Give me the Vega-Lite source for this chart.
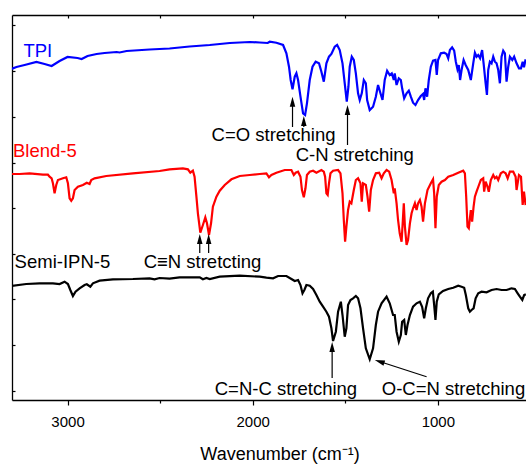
{
  "$schema": "https://vega.github.io/schema/vega-lite/v6.json",
  "width": 514,
  "height": 385,
  "autosize": {"type": "none"},
  "padding": {"left": 12, "top": 15, "right": 0, "bottom": 65},
  "config": {
    "view": {"stroke": null},
    "axis": {"domainColor": "#000000", "domainWidth": 1.3, "tickColor": "#000000", "tickWidth": 1.2, "grid": false, "labelColor": "#000000", "labelFont": "Liberation Sans", "titleFont": "Liberation Sans", "titleColor": "#000000", "titleFontWeight": "normal"}
  },
  "datasets": {
    "spectra": [
      {"s":"TPI","wn":3303,"y":331},{"s":"TPI","wn":3276,"y":333},{"s":"TPI","wn":3232,"y":335},{"s":"TPI","wn":3168,"y":338},{"s":"TPI","wn":3124,"y":336},{"s":"TPI","wn":3086,"y":334},{"s":"TPI","wn":3043,"y":339},{"s":"TPI","wn":3000,"y":343},{"s":"TPI","wn":2946,"y":342},{"s":"TPI","wn":2924,"y":341},{"s":"TPI","wn":2892,"y":344},{"s":"TPI","wn":2843,"y":346},{"s":"TPI","wn":2800,"y":347},{"s":"TPI","wn":2735,"y":348},{"s":"TPI","wn":2719,"y":347.5},{"s":"TPI","wn":2681,"y":349},{"s":"TPI","wn":2557,"y":350.5},{"s":"TPI","wn":2449,"y":351.5},{"s":"TPI","wn":2341,"y":353.5},{"s":"TPI","wn":2232,"y":355},{"s":"TPI","wn":2124,"y":357},{"s":"TPI","wn":2016,"y":358},{"s":"TPI","wn":1962,"y":357.5},{"s":"TPI","wn":1919,"y":357},{"s":"TPI","wn":1908,"y":358.3},{"s":"TPI","wn":1872,"y":357.3},{"s":"TPI","wn":1836,"y":355},{"s":"TPI","wn":1818,"y":346.7},{"s":"TPI","wn":1804,"y":333.3},{"s":"TPI","wn":1795,"y":320},{"s":"TPI","wn":1785,"y":310.7},{"s":"TPI","wn":1773,"y":323.3},{"s":"TPI","wn":1764,"y":326.7},{"s":"TPI","wn":1755,"y":320},{"s":"TPI","wn":1742,"y":303.3},{"s":"TPI","wn":1728,"y":286.7},{"s":"TPI","wn":1717,"y":285},{"s":"TPI","wn":1707,"y":296.7},{"s":"TPI","wn":1692,"y":320},{"s":"TPI","wn":1677,"y":333.3},{"s":"TPI","wn":1660,"y":338.3},{"s":"TPI","wn":1642,"y":336.7},{"s":"TPI","wn":1629,"y":328.3},{"s":"TPI","wn":1616,"y":318.3},{"s":"TPI","wn":1602,"y":336.7},{"s":"TPI","wn":1588,"y":343.3},{"s":"TPI","wn":1575,"y":346},{"s":"TPI","wn":1557,"y":353.3},{"s":"TPI","wn":1544,"y":355},{"s":"TPI","wn":1530,"y":350},{"s":"TPI","wn":1515,"y":336.7},{"s":"TPI","wn":1503,"y":316.7},{"s":"TPI","wn":1492,"y":298.3},{"s":"TPI","wn":1483,"y":313.3},{"s":"TPI","wn":1476,"y":333.3},{"s":"TPI","wn":1465,"y":343.3},{"s":"TPI","wn":1454,"y":340},{"s":"TPI","wn":1443,"y":326.7},{"s":"TPI","wn":1431,"y":306.7},{"s":"TPI","wn":1422,"y":300},{"s":"TPI","wn":1411,"y":306.7},{"s":"TPI","wn":1400,"y":320},{"s":"TPI","wn":1389,"y":316.7},{"s":"TPI","wn":1382,"y":300},{"s":"TPI","wn":1368,"y":290},{"s":"TPI","wn":1350,"y":293.3},{"s":"TPI","wn":1335,"y":303.3},{"s":"TPI","wn":1323,"y":315},{"s":"TPI","wn":1310,"y":306.7},{"s":"TPI","wn":1299,"y":300},{"s":"TPI","wn":1287,"y":320},{"s":"TPI","wn":1274,"y":329.3},{"s":"TPI","wn":1260,"y":325},{"s":"TPI","wn":1249,"y":326.7},{"s":"TPI","wn":1238,"y":320},{"s":"TPI","wn":1233,"y":326.7},{"s":"TPI","wn":1223,"y":315},{"s":"TPI","wn":1211,"y":321.7},{"s":"TPI","wn":1200,"y":320},{"s":"TPI","wn":1193,"y":311.7},{"s":"TPI","wn":1182,"y":301.7},{"s":"TPI","wn":1169,"y":306.7},{"s":"TPI","wn":1157,"y":309.3},{"s":"TPI","wn":1146,"y":303.3},{"s":"TPI","wn":1134,"y":297.3},{"s":"TPI","wn":1121,"y":295},{"s":"TPI","wn":1107,"y":300},{"s":"TPI","wn":1092,"y":304},{"s":"TPI","wn":1080,"y":306},{"s":"TPI","wn":1074,"y":300},{"s":"TPI","wn":1067,"y":311.7},{"s":"TPI","wn":1058,"y":303.3},{"s":"TPI","wn":1049,"y":320},{"s":"TPI","wn":1038,"y":333.3},{"s":"TPI","wn":1026,"y":339.3},{"s":"TPI","wn":1013,"y":340},{"s":"TPI","wn":1006,"y":325},{"s":"TPI","wn":999,"y":340},{"s":"TPI","wn":984,"y":346.7},{"s":"TPI","wn":966,"y":347.3},{"s":"TPI","wn":953,"y":346},{"s":"TPI","wn":944,"y":341.7},{"s":"TPI","wn":935,"y":350},{"s":"TPI","wn":923,"y":352.7},{"s":"TPI","wn":912,"y":349.3},{"s":"TPI","wn":903,"y":338.3},{"s":"TPI","wn":894,"y":330.7},{"s":"TPI","wn":887,"y":335},{"s":"TPI","wn":880,"y":320},{"s":"TPI","wn":872,"y":330},{"s":"TPI","wn":861,"y":340},{"s":"TPI","wn":850,"y":335},{"s":"TPI","wn":836,"y":330},{"s":"TPI","wn":822,"y":320},{"s":"TPI","wn":809,"y":336.7},{"s":"TPI","wn":800,"y":347.3},{"s":"TPI","wn":791,"y":343.3},{"s":"TPI","wn":782,"y":345},{"s":"TPI","wn":772,"y":341.7},{"s":"TPI","wn":761,"y":350},{"s":"TPI","wn":753,"y":336.7},{"s":"TPI","wn":742,"y":316.7},{"s":"TPI","wn":735,"y":305},{"s":"TPI","wn":728,"y":330},{"s":"TPI","wn":719,"y":338.3},{"s":"TPI","wn":710,"y":336.7},{"s":"TPI","wn":701,"y":343.3},{"s":"TPI","wn":692,"y":338.3},{"s":"TPI","wn":683,"y":336.7},{"s":"TPI","wn":674,"y":330},{"s":"TPI","wn":665,"y":316.7},{"s":"TPI","wn":656,"y":343.3},{"s":"TPI","wn":647,"y":349.3},{"s":"TPI","wn":638,"y":346.7},{"s":"TPI","wn":629,"y":318.3},{"s":"TPI","wn":620,"y":333.3},{"s":"TPI","wn":611,"y":343.3},{"s":"TPI","wn":598,"y":340},{"s":"TPI","wn":588,"y":343.3},{"s":"TPI","wn":575,"y":336.7},{"s":"TPI","wn":562,"y":331.7},{"s":"TPI","wn":551,"y":331.7},{"s":"TPI","wn":542,"y":338.3},{"s":"TPI","wn":535,"y":332.7},{"s":"TPI","wn":526,"y":340.7},
      {"s":"Blend-5","wn":3303,"y":226},{"s":"Blend-5","wn":3259,"y":226},{"s":"Blend-5","wn":3205,"y":226.7},{"s":"Blend-5","wn":3133,"y":225.3},{"s":"Blend-5","wn":3106,"y":225.3},{"s":"Blend-5","wn":3097,"y":223.3},{"s":"Blend-5","wn":3086,"y":221.7},{"s":"Blend-5","wn":3079,"y":216.7},{"s":"Blend-5","wn":3070,"y":206.7},{"s":"Blend-5","wn":3061,"y":215},{"s":"Blend-5","wn":3052,"y":220},{"s":"Blend-5","wn":3025,"y":221.7},{"s":"Blend-5","wn":3007,"y":222.7},{"s":"Blend-5","wn":2998,"y":216.7},{"s":"Blend-5","wn":2989,"y":201.7},{"s":"Blend-5","wn":2980,"y":199.3},{"s":"Blend-5","wn":2971,"y":201.7},{"s":"Blend-5","wn":2962,"y":210},{"s":"Blend-5","wn":2944,"y":213.3},{"s":"Blend-5","wn":2917,"y":215},{"s":"Blend-5","wn":2896,"y":217.3},{"s":"Blend-5","wn":2881,"y":216},{"s":"Blend-5","wn":2872,"y":220},{"s":"Blend-5","wn":2854,"y":221.7},{"s":"Blend-5","wn":2791,"y":224},{"s":"Blend-5","wn":2647,"y":226.7},{"s":"Blend-5","wn":2503,"y":229},{"s":"Blend-5","wn":2449,"y":230.7},{"s":"Blend-5","wn":2377,"y":231.7},{"s":"Blend-5","wn":2350,"y":230.7},{"s":"Blend-5","wn":2337,"y":227.3},{"s":"Blend-5","wn":2323,"y":229.3},{"s":"Blend-5","wn":2314,"y":223.3},{"s":"Blend-5","wn":2304,"y":203.3},{"s":"Blend-5","wn":2296,"y":186.7},{"s":"Blend-5","wn":2283,"y":167.3},{"s":"Blend-5","wn":2269,"y":175},{"s":"Blend-5","wn":2256,"y":182.7},{"s":"Blend-5","wn":2247,"y":176.7},{"s":"Blend-5","wn":2236,"y":165},{"s":"Blend-5","wn":2225,"y":176.7},{"s":"Blend-5","wn":2215,"y":193.3},{"s":"Blend-5","wn":2196,"y":203.3},{"s":"Blend-5","wn":2178,"y":209.3},{"s":"Blend-5","wn":2151,"y":215},{"s":"Blend-5","wn":2115,"y":220.7},{"s":"Blend-5","wn":2070,"y":224},{"s":"Blend-5","wn":2016,"y":225},{"s":"Blend-5","wn":1962,"y":226},{"s":"Blend-5","wn":1926,"y":226.7},{"s":"Blend-5","wn":1912,"y":222.7},{"s":"Blend-5","wn":1899,"y":225},{"s":"Blend-5","wn":1872,"y":227.3},{"s":"Blend-5","wn":1827,"y":230},{"s":"Blend-5","wn":1791,"y":230},{"s":"Blend-5","wn":1778,"y":225},{"s":"Blend-5","wn":1768,"y":227.3},{"s":"Blend-5","wn":1755,"y":228.3},{"s":"Blend-5","wn":1742,"y":223.3},{"s":"Blend-5","wn":1734,"y":210},{"s":"Blend-5","wn":1724,"y":202.7},{"s":"Blend-5","wn":1715,"y":211.7},{"s":"Blend-5","wn":1707,"y":225},{"s":"Blend-5","wn":1692,"y":228.3},{"s":"Blend-5","wn":1674,"y":229.3},{"s":"Blend-5","wn":1656,"y":227.3},{"s":"Blend-5","wn":1629,"y":230},{"s":"Blend-5","wn":1616,"y":228.3},{"s":"Blend-5","wn":1609,"y":223.3},{"s":"Blend-5","wn":1602,"y":206.7},{"s":"Blend-5","wn":1595,"y":205},{"s":"Blend-5","wn":1588,"y":216.7},{"s":"Blend-5","wn":1580,"y":226.7},{"s":"Blend-5","wn":1566,"y":229.3},{"s":"Blend-5","wn":1539,"y":230},{"s":"Blend-5","wn":1526,"y":226.7},{"s":"Blend-5","wn":1515,"y":206.7},{"s":"Blend-5","wn":1508,"y":180},{"s":"Blend-5","wn":1501,"y":158.3},{"s":"Blend-5","wn":1494,"y":173.3},{"s":"Blend-5","wn":1485,"y":190},{"s":"Blend-5","wn":1476,"y":198.3},{"s":"Blend-5","wn":1467,"y":196.7},{"s":"Blend-5","wn":1454,"y":210},{"s":"Blend-5","wn":1443,"y":220},{"s":"Blend-5","wn":1431,"y":221.7},{"s":"Blend-5","wn":1418,"y":216.7},{"s":"Blend-5","wn":1411,"y":198.3},{"s":"Blend-5","wn":1404,"y":216.7},{"s":"Blend-5","wn":1389,"y":215},{"s":"Blend-5","wn":1380,"y":203.3},{"s":"Blend-5","wn":1371,"y":188.3},{"s":"Blend-5","wn":1362,"y":210},{"s":"Blend-5","wn":1350,"y":220},{"s":"Blend-5","wn":1335,"y":226.7},{"s":"Blend-5","wn":1317,"y":227.3},{"s":"Blend-5","wn":1304,"y":221.7},{"s":"Blend-5","wn":1292,"y":226.7},{"s":"Blend-5","wn":1277,"y":230},{"s":"Blend-5","wn":1263,"y":228.3},{"s":"Blend-5","wn":1250,"y":220},{"s":"Blend-5","wn":1238,"y":206.7},{"s":"Blend-5","wn":1233,"y":211.7},{"s":"Blend-5","wn":1223,"y":196.7},{"s":"Blend-5","wn":1215,"y":180},{"s":"Blend-5","wn":1206,"y":166.7},{"s":"Blend-5","wn":1196,"y":158.3},{"s":"Blend-5","wn":1189,"y":180},{"s":"Blend-5","wn":1184,"y":196.7},{"s":"Blend-5","wn":1178,"y":173.3},{"s":"Blend-5","wn":1169,"y":155},{"s":"Blend-5","wn":1161,"y":160},{"s":"Blend-5","wn":1151,"y":176.7},{"s":"Blend-5","wn":1142,"y":186.7},{"s":"Blend-5","wn":1134,"y":191.7},{"s":"Blend-5","wn":1124,"y":196.7},{"s":"Blend-5","wn":1115,"y":190},{"s":"Blend-5","wn":1107,"y":196.7},{"s":"Blend-5","wn":1097,"y":200},{"s":"Blend-5","wn":1088,"y":193.3},{"s":"Blend-5","wn":1080,"y":178.3},{"s":"Blend-5","wn":1070,"y":196.7},{"s":"Blend-5","wn":1056,"y":210},{"s":"Blend-5","wn":1038,"y":216.7},{"s":"Blend-5","wn":1026,"y":220.7},{"s":"Blend-5","wn":1020,"y":206.7},{"s":"Blend-5","wn":1013,"y":171.7},{"s":"Blend-5","wn":1006,"y":203.3},{"s":"Blend-5","wn":995,"y":215},{"s":"Blend-5","wn":980,"y":218.3},{"s":"Blend-5","wn":962,"y":220},{"s":"Blend-5","wn":944,"y":223.3},{"s":"Blend-5","wn":917,"y":225},{"s":"Blend-5","wn":890,"y":227.3},{"s":"Blend-5","wn":863,"y":229.3},{"s":"Blend-5","wn":854,"y":226.7},{"s":"Blend-5","wn":847,"y":203.3},{"s":"Blend-5","wn":840,"y":173.3},{"s":"Blend-5","wn":833,"y":171.7},{"s":"Blend-5","wn":822,"y":190},{"s":"Blend-5","wn":815,"y":178.3},{"s":"Blend-5","wn":807,"y":193.3},{"s":"Blend-5","wn":800,"y":203.3},{"s":"Blend-5","wn":791,"y":208.3},{"s":"Blend-5","wn":778,"y":215},{"s":"Blend-5","wn":768,"y":220},{"s":"Blend-5","wn":755,"y":221.7},{"s":"Blend-5","wn":750,"y":208.3},{"s":"Blend-5","wn":742,"y":218.3},{"s":"Blend-5","wn":732,"y":213.3},{"s":"Blend-5","wn":725,"y":208.3},{"s":"Blend-5","wn":714,"y":220},{"s":"Blend-5","wn":701,"y":225},{"s":"Blend-5","wn":692,"y":221.7},{"s":"Blend-5","wn":683,"y":223.3},{"s":"Blend-5","wn":674,"y":220},{"s":"Blend-5","wn":660,"y":226.7},{"s":"Blend-5","wn":647,"y":228.3},{"s":"Blend-5","wn":634,"y":226.7},{"s":"Blend-5","wn":623,"y":221.7},{"s":"Blend-5","wn":611,"y":228.3},{"s":"Blend-5","wn":593,"y":228.3},{"s":"Blend-5","wn":580,"y":223.3},{"s":"Blend-5","wn":575,"y":210},{"s":"Blend-5","wn":562,"y":225},{"s":"Blend-5","wn":551,"y":223.3},{"s":"Blend-5","wn":542,"y":195},{"s":"Blend-5","wn":535,"y":208.3},{"s":"Blend-5","wn":526,"y":195},
      {"s":"Semi-IPN-5","wn":3303,"y":114},{"s":"Semi-IPN-5","wn":3223,"y":116},{"s":"Semi-IPN-5","wn":3151,"y":116.7},{"s":"Semi-IPN-5","wn":3079,"y":116.7},{"s":"Semi-IPN-5","wn":3043,"y":116},{"s":"Semi-IPN-5","wn":3016,"y":118.3},{"s":"Semi-IPN-5","wn":2998,"y":116},{"s":"Semi-IPN-5","wn":2985,"y":110},{"s":"Semi-IPN-5","wn":2971,"y":104},{"s":"Semi-IPN-5","wn":2957,"y":108.3},{"s":"Semi-IPN-5","wn":2935,"y":111.7},{"s":"Semi-IPN-5","wn":2908,"y":115},{"s":"Semi-IPN-5","wn":2896,"y":115.7},{"s":"Semi-IPN-5","wn":2877,"y":113.3},{"s":"Semi-IPN-5","wn":2863,"y":116.7},{"s":"Semi-IPN-5","wn":2827,"y":119.3},{"s":"Semi-IPN-5","wn":2755,"y":120.7},{"s":"Semi-IPN-5","wn":2647,"y":121},{"s":"Semi-IPN-5","wn":2557,"y":121.7},{"s":"Semi-IPN-5","wn":2530,"y":120.7},{"s":"Semi-IPN-5","wn":2503,"y":122},{"s":"Semi-IPN-5","wn":2449,"y":121.3},{"s":"Semi-IPN-5","wn":2395,"y":122.7},{"s":"Semi-IPN-5","wn":2286,"y":122.7},{"s":"Semi-IPN-5","wn":2269,"y":120.7},{"s":"Semi-IPN-5","wn":2250,"y":122},{"s":"Semi-IPN-5","wn":2232,"y":121},{"s":"Semi-IPN-5","wn":2178,"y":123.3},{"s":"Semi-IPN-5","wn":2070,"y":124.3},{"s":"Semi-IPN-5","wn":1962,"y":123.3},{"s":"Semi-IPN-5","wn":1926,"y":122.3},{"s":"Semi-IPN-5","wn":1890,"y":121.7},{"s":"Semi-IPN-5","wn":1863,"y":124},{"s":"Semi-IPN-5","wn":1818,"y":124},{"s":"Semi-IPN-5","wn":1791,"y":121},{"s":"Semi-IPN-5","wn":1773,"y":119},{"s":"Semi-IPN-5","wn":1755,"y":120},{"s":"Semi-IPN-5","wn":1742,"y":115},{"s":"Semi-IPN-5","wn":1731,"y":106.7},{"s":"Semi-IPN-5","wn":1721,"y":110},{"s":"Semi-IPN-5","wn":1710,"y":115},{"s":"Semi-IPN-5","wn":1692,"y":114.3},{"s":"Semi-IPN-5","wn":1674,"y":111},{"s":"Semi-IPN-5","wn":1656,"y":105},{"s":"Semi-IPN-5","wn":1638,"y":98.3},{"s":"Semi-IPN-5","wn":1620,"y":93.3},{"s":"Semi-IPN-5","wn":1602,"y":88.3},{"s":"Semi-IPN-5","wn":1588,"y":83.3},{"s":"Semi-IPN-5","wn":1575,"y":71.7},{"s":"Semi-IPN-5","wn":1566,"y":59},{"s":"Semi-IPN-5","wn":1551,"y":68.3},{"s":"Semi-IPN-5","wn":1539,"y":88.3},{"s":"Semi-IPN-5","wn":1524,"y":98.3},{"s":"Semi-IPN-5","wn":1515,"y":85},{"s":"Semi-IPN-5","wn":1503,"y":63.3},{"s":"Semi-IPN-5","wn":1494,"y":71.7},{"s":"Semi-IPN-5","wn":1485,"y":95},{"s":"Semi-IPN-5","wn":1472,"y":100},{"s":"Semi-IPN-5","wn":1458,"y":101.7},{"s":"Semi-IPN-5","wn":1443,"y":104},{"s":"Semi-IPN-5","wn":1431,"y":101.7},{"s":"Semi-IPN-5","wn":1418,"y":91.7},{"s":"Semi-IPN-5","wn":1404,"y":71.7},{"s":"Semi-IPN-5","wn":1389,"y":51.7},{"s":"Semi-IPN-5","wn":1368,"y":40.7},{"s":"Semi-IPN-5","wn":1350,"y":51.7},{"s":"Semi-IPN-5","wn":1335,"y":75},{"s":"Semi-IPN-5","wn":1323,"y":88.3},{"s":"Semi-IPN-5","wn":1304,"y":96.7},{"s":"Semi-IPN-5","wn":1277,"y":103.3},{"s":"Semi-IPN-5","wn":1260,"y":96.7},{"s":"Semi-IPN-5","wn":1242,"y":85},{"s":"Semi-IPN-5","wn":1233,"y":85},{"s":"Semi-IPN-5","wn":1223,"y":68.3},{"s":"Semi-IPN-5","wn":1211,"y":58.3},{"s":"Semi-IPN-5","wn":1200,"y":65},{"s":"Semi-IPN-5","wn":1193,"y":78.3},{"s":"Semi-IPN-5","wn":1182,"y":80},{"s":"Semi-IPN-5","wn":1173,"y":65},{"s":"Semi-IPN-5","wn":1164,"y":75},{"s":"Semi-IPN-5","wn":1151,"y":85},{"s":"Semi-IPN-5","wn":1134,"y":93.3},{"s":"Semi-IPN-5","wn":1115,"y":96.7},{"s":"Semi-IPN-5","wn":1097,"y":98.3},{"s":"Semi-IPN-5","wn":1085,"y":93.3},{"s":"Semi-IPN-5","wn":1074,"y":81.7},{"s":"Semi-IPN-5","wn":1065,"y":91.7},{"s":"Semi-IPN-5","wn":1053,"y":101.7},{"s":"Semi-IPN-5","wn":1038,"y":106.7},{"s":"Semi-IPN-5","wn":1027,"y":108.3},{"s":"Semi-IPN-5","wn":1020,"y":95},{"s":"Semi-IPN-5","wn":1013,"y":80},{"s":"Semi-IPN-5","wn":1006,"y":98.3},{"s":"Semi-IPN-5","wn":995,"y":105.7},{"s":"Semi-IPN-5","wn":972,"y":109},{"s":"Semi-IPN-5","wn":944,"y":111},{"s":"Semi-IPN-5","wn":917,"y":112.3},{"s":"Semi-IPN-5","wn":890,"y":114.3},{"s":"Semi-IPN-5","wn":872,"y":113.3},{"s":"Semi-IPN-5","wn":858,"y":112.3},{"s":"Semi-IPN-5","wn":849,"y":105},{"s":"Semi-IPN-5","wn":836,"y":91.7},{"s":"Semi-IPN-5","wn":827,"y":88.3},{"s":"Semi-IPN-5","wn":818,"y":90},{"s":"Semi-IPN-5","wn":807,"y":91.7},{"s":"Semi-IPN-5","wn":796,"y":101.7},{"s":"Semi-IPN-5","wn":782,"y":106.7},{"s":"Semi-IPN-5","wn":764,"y":108.3},{"s":"Semi-IPN-5","wn":737,"y":107.7},{"s":"Semi-IPN-5","wn":710,"y":110},{"s":"Semi-IPN-5","wn":683,"y":111},{"s":"Semi-IPN-5","wn":656,"y":110},{"s":"Semi-IPN-5","wn":629,"y":110},{"s":"Semi-IPN-5","wn":602,"y":111.7},{"s":"Semi-IPN-5","wn":584,"y":111},{"s":"Semi-IPN-5","wn":569,"y":106.7},{"s":"Semi-IPN-5","wn":557,"y":103.3},{"s":"Semi-IPN-5","wn":544,"y":100},{"s":"Semi-IPN-5","wn":534,"y":105},{"s":"Semi-IPN-5","wn":525,"y":105.7}
    ],
    "arrows": [
      {"wn":1785,"y":273,"wn2":1785,"y2":298},
      {"wn":1724,"y":273,"wn2":1724,"y2":279},
      {"wn":1488,"y":255,"wn2":1488,"y2":290},
      {"wn":2286,"y":147,"wn2":2286,"y2":161},
      {"wn":2238,"y":147,"wn2":2238,"y2":161},
      {"wn":1571,"y":22,"wn2":1571,"y2":53},
      {"wn":1061,"y":23.3,"wn2":1315,"y2":38.5}
    ],
    "heads": [
      {"wn":1785,"y":298.3,"a":0},
      {"wn":1724,"y":279,"a":0},
      {"wn":1488,"y":290,"a":0},
      {"wn":2286,"y":161,"a":0},
      {"wn":2238,"y":161,"a":0},
      {"wn":1571,"y":53,"a":0},
      {"wn":1315,"y":38.5,"a":288}
    ],
    "labels": [
      {"t":"TPI","wn":3238,"y":343.3,"c":"#0000ff"},
      {"t":"Blend-5","wn":3295,"y":242.7,"c":"#ff0000"},
      {"t":"Semi-IPN-5","wn":3286,"y":132,"c":"#000000"},
      {"t":"C≡N stretcting","wn":2589,"y":132,"c":"#000000"},
      {"t":"C=O stretching","wn":2222,"y":259,"c":"#000000"},
      {"t":"C-N stretching","wn":1768,"y":239.3,"c":"#000000"},
      {"t":"C=N-C stretching","wn":2205,"y":5,"c":"#000000"},
      {"t":"O-C=N stretching","wn":1303,"y":5,"c":"#000000"}
    ]
  },
  "resolve": {"axis": {"x": "independent"}},
  "layer": [
    {
      "data": {"name": "spectra"},
      "mark": {"type": "line", "strokeWidth": 2.2, "clip": true},
      "encoding": {
        "x": {"field": "wn", "type": "quantitative", "scale": {"domain": [3300, 524], "nice": false, "zero": false},
          "axis": {"orient": "bottom", "values": [3000, 2500, 2000, 1500, 1000], "labelExpr": "datum.value % 1000 === 0 ? datum.label : ''", "format": "d",
            "tickSize": {"condition": {"test": "datum.value % 1000 === 0", "value": 5}, "value": 3},
            "labelFontSize": 15, "labelPadding": 9, "title": "Wavenumber (cm⁻¹)", "titleFontSize": 18, "titleBaseline": "alphabetic", "titleY": 59, "titleX": 267.5, "titleAlign": "center"}},
        "y": {"field": "y", "type": "quantitative", "scale": {"domain": [0, 385], "nice": false, "zero": false},
          "axis": {"orient": "left", "values": [9, 55, 101, 146, 192, 237, 283, 329, 375], "labels": false, "tickSize": -3, "title": null}},
        "color": {"field": "s", "type": "nominal", "scale": {"domain": ["TPI", "Blend-5", "Semi-IPN-5"], "range": ["#0000ff", "#ff0000", "#000000"]}, "legend": null}
      }
    },
    {
      "data": {"name": "arrows"},
      "mark": {"type": "rule", "color": "#000000", "strokeWidth": 1.2},
      "encoding": {
        "x": {"field": "wn", "type": "quantitative", "axis": {"orient": "top", "values": [3000, 2500, 2000, 1500, 1000], "labels": false, "tickSize": -3, "title": null}},
        "x2": {"field": "wn2"},
        "y": {"field": "y", "type": "quantitative", "axis": {"orient": "left", "values": [9, 55, 101, 146, 192, 237, 283, 329, 375], "labels": false, "tickSize": -3, "title": null}},
        "y2": {"field": "y2"}
      }
    },
    {
      "data": {"name": "heads"},
      "mark": {"type": "point", "shape": "M0,-1L-0.55,1L0.55,1Z", "filled": true, "color": "#000000", "opacity": 1, "size": 100},
      "encoding": {
        "x": {"field": "wn", "type": "quantitative", "axis": null},
        "y": {"field": "y", "type": "quantitative", "axis": {"orient": "left", "values": [9, 55, 101, 146, 192, 237, 283, 329, 375], "labels": false, "tickSize": -3, "title": null}},
        "angle": {"field": "a", "type": "quantitative", "scale": null}
      }
    },
    {
      "data": {"name": "labels"},
      "mark": {"type": "text", "align": "left", "baseline": "alphabetic", "fontSize": 18.5, "font": "Liberation Sans"},
      "encoding": {
        "x": {"field": "wn", "type": "quantitative", "axis": null},
        "y": {"field": "y", "type": "quantitative", "axis": {"orient": "left", "values": [9, 55, 101, 146, 192, 237, 283, 329, 375], "labels": false, "tickSize": -3, "title": null}},
        "text": {"field": "t", "type": "nominal"},
        "color": {"field": "c", "type": "nominal", "scale": null}
      }
    }
  ]
}
